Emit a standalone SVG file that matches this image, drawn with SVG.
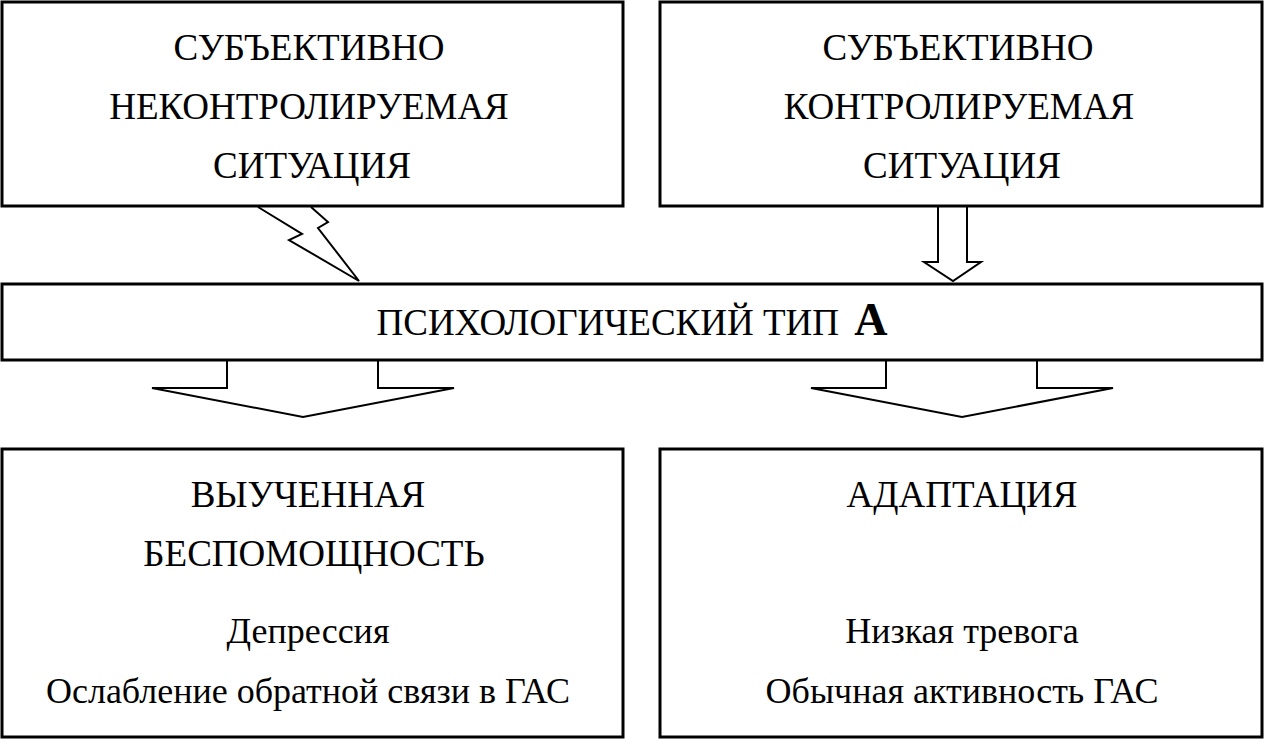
<svg xmlns="http://www.w3.org/2000/svg" width="1264" height="739" viewBox="0 0 1264 739">
<style>
.box{fill:#fff;stroke:#000;stroke-width:3}
.ln{fill:#fff;stroke:#000;stroke-width:2;stroke-linejoin:miter}
.t{font-family:"Liberation Serif","Times New Roman",serif;font-size:37px;fill:#000;text-anchor:middle}
.s{font-size:36px}
.b{font-weight:bold;font-size:46px}
</style>
<rect width="1264" height="739" fill="#fff"/>
<g id="connectors">
<polyline class="ln" points="258,207 302,234 289,240 359,281 318,228 328,222 311,207"/>
<polyline class="ln" points="938,207 938,262 924,262 953,281 981,262 967,262 967,207"/>
<polyline class="ln" points="227,361 227,388 152,388 303,417 454,388 378,388 378,361"/>
<polyline class="ln" points="886,361 886,388 811,388 962,417 1113,388 1037,388 1037,361"/>
</g>
<g id="n1">
<rect class="box" x="2" y="2" width="621" height="204"/>
<text class="t" x="309" y="60">СУБЪЕКТИВНО</text>
<text class="t" x="309" y="119">НЕКОНТРОЛИРУЕМАЯ</text>
<text class="t" x="312" y="178">СИТУАЦИЯ</text>
</g>
<g id="n2">
<rect class="box" x="660" y="2" width="602" height="204"/>
<text class="t" x="958" y="60">СУБЪЕКТИВНО</text>
<text class="t" x="959" y="119">КОНТРОЛИРУЕМАЯ</text>
<text class="t" x="962" y="178">СИТУАЦИЯ</text>
</g>
<g id="n3">
<rect class="box" x="2" y="284" width="1260" height="76"/>
<text class="t" x="632" y="335">ПСИХОЛОГИЧЕСКИЙ ТИП <tspan class="b" dx="6">А</tspan></text>
</g>
<g id="n4">
<rect class="box" x="2" y="449" width="621" height="288"/>
<text class="t" x="308" y="507">ВЫУЧЕННАЯ</text>
<text class="t" x="314" y="566">БЕСПОМОЩНОСТЬ</text>
<text class="t s" x="308" y="643">Депрессия</text>
<text class="t s" x="308" y="703">Ослабление обратной связи в ГАС</text>
</g>
<g id="n5">
<rect class="box" x="660" y="449" width="602" height="288"/>
<text class="t" x="962" y="507">АДАПТАЦИЯ</text>
<text class="t s" x="962" y="643">Низкая тревога</text>
<text class="t s" x="962" y="703">Обычная активность ГАС</text>
</g>
</svg>
